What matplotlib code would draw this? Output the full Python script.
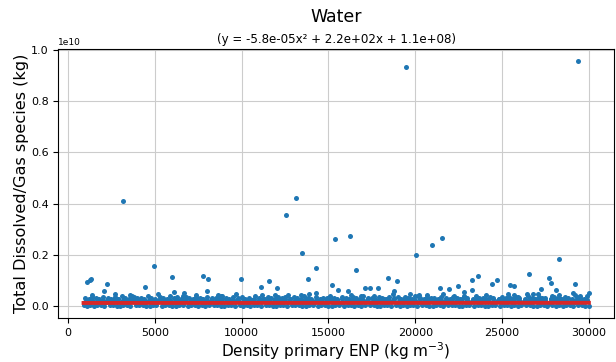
import numpy as np
import matplotlib.pyplot as plt

title = "Water"
subtitle = "(y = -5.8e-05x² + 2.2e+02x + 1.1e+08)"
fit_coef = [-5.8e-05, 2.2e+02, 1.1e+08]  # quadratic fit from the subtitle

# isolated points above the band (x in kg m-3, y in 1e9 kg)
out_x = [1110, 1250, 1340, 2230, 2070, 3160, 3570, 4440, 4940, 5990,
         6130, 6690, 7760, 8070, 8010, 8620, 9990, 11120, 11600, 12060,
         11930, 12570, 13140, 13470, 13820, 14290, 14260, 13450, 15370, 15200,
         15580, 16250, 16100, 16580, 16870, 17100, 17400, 17880, 18460, 18940,
         18770, 19480, 19710, 20040, 20650, 20170, 20960, 21540, 21440, 21920,
         22490, 22780, 22250, 23270, 23630, 23270, 24420, 24690, 25320, 25460,
         25660, 25900, 26570, 26420, 27050, 27260, 27720, 27840, 28300, 28130,
         28300, 29200, 29070, 29490, 29990, 29390]
out_y = [0.95, 1.02, 1.04, 0.86, 0.56, 4.11, 0.43, 0.75, 1.57, 1.13,
         0.53, 0.52, 1.17, 1.05, 0.59, 0.44, 1.05, 0.75, 0.98, 0.68,
         0.42, 3.54, 4.23, 2.07, 1.03, 1.46, 0.51, 0.44, 2.60, 0.81,
         0.63, 2.72, 0.56, 1.39, 0.39, 0.71, 0.71, 0.71, 1.08, 0.98,
         0.59, 9.35, 0.46, 1.98, 0.43, 0.40, 2.39, 2.66, 0.71, 0.66,
         0.78, 0.55, 0.40, 1.00, 1.16, 0.60, 0.85, 1.02, 0.46, 0.81,
         0.77, 0.35, 1.26, 0.47, 0.48, 0.66, 1.07, 0.91, 1.84, 0.61,
         0.42, 0.85, 0.52, 0.40, 0.50, 9.57]

# dense band close to zero (x in 100 kg m-3, y in 1e7 kg)
band_lo_x = [9, 11, 13, 15, 17, 19, 21, 24, 26, 28, 30, 32, 34, 36, 39, 41, 43, 45, 47, 49,
             51, 54, 56, 58, 60, 62, 64, 66, 69, 71, 73, 75, 77, 79, 81, 84, 86, 88, 90, 92,
             94, 96, 99, 101, 103, 105, 107, 109, 111, 114, 116, 118, 120, 122, 124, 126, 129,
             131, 133, 135, 137, 139, 141, 144, 146, 148, 150, 152, 154, 156, 159, 161, 163,
             165, 167, 169, 171, 174, 176, 178, 180, 182, 184, 186, 189, 191, 193, 195, 197,
             199, 201, 204, 206, 208, 210, 212, 214, 216, 219, 221, 223, 225, 227, 229, 231,
             234, 236, 238, 240, 242, 244, 246, 249, 251, 253, 255, 257, 259, 261, 264, 266,
             268, 270, 272, 274, 276, 279, 281, 283, 285, 287, 289, 291, 294, 296, 298, 300]
band_lo_y = [2, 1, 3, 0, 2, 4, 1, 2, 3, 1, 0, 2, 3, 1, 2, 4, 2, 1, 0, 3, 2, 1, 3, 2, 0, 1, 4, 2,
             1, 3, 2, 0, 2, 1, 3, 2, 4, 1, 0, 2, 3, 1, 2, 1, 3, 0, 2, 4, 1, 2, 3, 1, 0, 2, 3, 1,
             2, 4, 2, 1, 0, 3, 2, 1, 3, 2, 0, 1, 4, 2, 1, 3, 2, 0, 2, 1, 3, 2, 4, 1, 0, 2, 3, 1,
             2, 1, 3, 0, 2, 4, 1, 2, 3, 1, 0, 2, 3, 1, 2, 4, 2, 1, 0, 3, 2, 1, 3, 2, 0, 1, 4, 2,
             1, 3, 2, 0, 2, 1, 3, 2, 4, 1, 0, 2, 3, 1, 2, 1, 3, 0, 2, 4, 1, 2, 3, 1, 0, 2, 3, 1]
band_mid_x = [10, 13, 16, 19, 22, 25, 28, 31, 34, 37, 40, 43, 46, 49, 52, 55, 58, 61, 64, 67,
              70, 73, 76, 79, 82, 85, 88, 91, 94, 97, 100, 103, 106, 109, 112, 115, 118, 121,
              124, 127, 130, 133, 136, 139, 142, 145, 148, 151, 154, 157, 160, 163, 166, 169,
              172, 175, 178, 181, 184, 187, 190, 193, 196, 199, 202, 205, 208, 211, 214, 217,
              220, 223, 226, 229, 232, 235, 238, 241, 244, 247, 250, 253, 256, 259, 262, 265,
              268, 271, 274, 277, 280, 283, 286, 289, 292, 295, 298]
band_mid_y = [15, 18, 12, 20, 16, 14, 19, 13, 17, 21, 15, 12, 18, 16, 20, 14, 17, 13, 19, 15,
              12, 18, 21, 16, 14, 17, 13, 20, 15, 19, 12, 16, 18, 14, 21, 17, 13, 15, 19, 16,
              12, 20, 14, 18, 15, 17, 13, 21, 16, 12, 19, 14, 18, 15, 20, 13, 17, 16, 12, 19,
              15, 21, 14, 18, 13, 16, 20, 15, 17, 12, 19, 14, 18, 16, 13, 21, 15, 17, 12, 20,
              14, 18, 16, 19, 13, 15, 17, 21, 14, 12, 18, 16, 20, 15, 13, 19, 17]
band_up_x = [11, 14, 17, 20, 23, 26, 29, 32, 35, 38, 41, 44, 47, 50, 53, 56, 59, 62, 65, 68,
             71, 74, 77, 80, 83, 86, 89, 92, 95, 98, 101, 104, 107, 110, 113, 116, 119, 122,
             125, 128, 131, 134, 137, 140, 143, 146, 149, 152, 155, 158, 161, 164, 167, 170,
             173, 176, 179, 182, 185, 188, 191, 194, 197, 200, 203, 206, 209, 212, 215, 218,
             221, 224, 227, 230, 233, 236, 239, 242, 245, 248, 251, 254, 257, 260, 263, 266,
             269, 272, 275, 278, 281, 284, 287, 290, 293, 296, 299]
band_up_y = [24, 22, 26, 21, 25, 23, 27, 22, 24, 26, 21, 25, 23, 22, 27, 24, 21, 26, 23, 25,
             22, 24, 27, 21, 25, 23, 26, 22, 24, 21, 27, 23, 25, 22, 26, 24, 21, 23, 27, 25,
             22, 24, 26, 21, 23, 25, 27, 22, 24, 26, 21, 25, 23, 22, 27, 24, 21, 26, 23, 25,
             22, 24, 27, 21, 25, 23, 26, 22, 24, 21, 27, 23, 25, 22, 26, 24, 21, 23, 27, 25,
             22, 24, 26, 21, 23, 25, 27, 22, 24, 26, 21, 25, 23, 22, 27, 24, 21]
band_hi_x = [10, 12, 14, 16, 18, 20, 23, 25, 27, 29, 31, 33, 35, 38, 40, 42, 44, 46, 48, 50,
             53, 55, 57, 59, 61, 63, 65, 68, 70, 72, 74, 76, 78, 80, 83, 85, 87, 89, 91, 93,
             95, 98, 100, 102, 104, 106, 108, 110, 113, 115, 117, 119, 121, 123, 125, 128, 130,
             132, 134, 136, 138, 140, 143, 145, 147, 149, 151, 153, 155, 158, 160, 162, 164,
             166, 168, 170, 173, 175, 177, 179, 181, 183, 185, 188, 190, 192, 194, 196, 198,
             200, 203, 205, 207, 209, 211, 213, 215, 218, 220, 222, 224, 226, 228, 230, 233,
             235, 237, 239, 241, 243, 245, 248, 250, 252, 254, 256, 258, 260, 263, 265, 267,
             269, 271, 273, 275, 278, 280, 282, 284, 286, 288, 290, 293, 295, 297, 299]
band_hi_y = [30, 27, 34, 29, 25, 36, 31, 28, 33, 26, 38, 30, 27, 35, 29, 32, 24, 37, 30, 28,
             34, 31, 26, 39, 29, 33, 27, 35, 30, 25, 36, 32, 28, 34, 29, 31, 27, 38, 30, 26,
             33, 29, 35, 28, 32, 24, 37, 31, 27, 34, 30, 28, 36, 29, 33, 26, 35, 31, 27, 38,
             30, 28, 34, 25, 32, 29, 36, 30, 27, 33, 31, 28, 35, 29, 26, 37, 30, 32, 28, 34,
             31, 27, 36, 29, 33, 25, 35, 30, 28, 38, 31, 27, 34, 29, 32, 26, 36, 30, 28, 33,
             31, 27, 35, 29, 24, 37, 30, 32, 28, 34, 31, 26, 36, 29, 33, 27, 35, 30, 28, 39,
             31, 27, 34, 29, 32, 25, 36, 30, 28, 33, 31, 27, 35, 29, 26, 37, 30]
# small bumps on top of the band (x in 100 kg m-3, y in 1e7 kg)
bump_x = [14, 27, 37, 52, 66, 74, 88, 97, 112, 127, 139, 151, 163, 176, 187, 202, 216,
          228, 241, 257, 268, 279, 292]
bump_y = [42, 45, 38, 47, 40, 44, 39, 48, 41, 43, 46, 40, 44, 38, 47, 42, 45, 39, 43, 41,
          46, 40, 44]


def pairs(xs, ys):
    p = list(zip(xs, ys))
    return np.array([a for a, b in p], float) * 100, np.array([b for a, b in p], float) * 1e7


parts_x = [np.array(out_x, float)]
parts_y = [np.array(out_y) * 1e9]
for bx, by in [(band_lo_x, band_lo_y), (band_mid_x, band_mid_y), (band_up_x, band_up_y),
               (band_hi_x, band_hi_y), (bump_x, bump_y)]:
    px, py = pairs(bx, by)
    parts_x.append(px)
    parts_y.append(py)
x = np.concatenate(parts_x)
y = np.concatenate(parts_y)

fig = plt.figure(figsize=(6.16, 3.62), dpi=100)
ax = fig.add_axes([0.0946, 0.1215, 0.9024, 0.7431])

ax.scatter(x, y, s=13, color='#1f77b4', linewidths=0, zorder=2)
xs = np.sort(x)
ax.plot(xs, np.polyval(fit_coef, xs), color='#d62728', lw=2.8, zorder=3)

ax.grid(True, color='#cccccc', lw=0.8)
ax.set_axisbelow(True)
ax.tick_params(labelsize=8)
ax.yaxis.get_offset_text().set_fontsize(6.5)
ax.set_xlabel("Density primary ENP (kg m$^{-3}$)", fontsize=11, labelpad=2)
ax.set_ylabel("Total Dissolved/Gas species (kg)", fontsize=11.6, labelpad=1)
ax.set_title(subtitle, fontsize=8.6, pad=4)
fig.text(0.5455, 0.953, title, fontsize=12.5, ha='center', va='center')

fig.savefig("out.png", dpi=100)
